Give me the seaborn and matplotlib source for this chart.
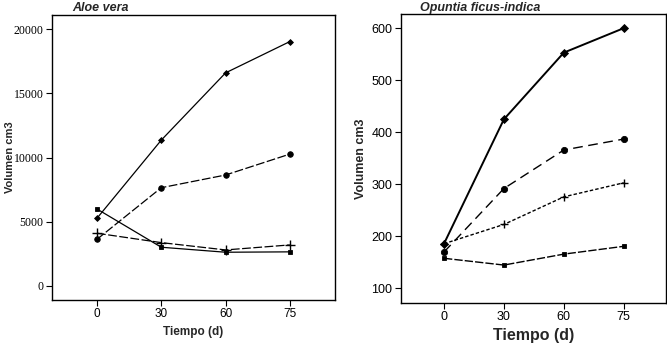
import matplotlib
matplotlib.use("Agg")
import matplotlib.pyplot as plt
import pandas as pd
import seaborn as sns

# days of measurement (categorical x axis)
tiempo = ["0", "30", "60", "75"]

# Aloe vera volumes (cm3)
aloe_diamante = [5270, 11360, 16600, 19040]
aloe_circulo = [3630, 7650, 8640, 10270]
aloe_cuadro = [5990, 3010, 2620, 2650]
aloe_cruz = [4100, 3370, 2800, 3190]

# Opuntia ficus-indica volumes (cm3)
opuntia_diamante = [186, 425, 553, 600]
opuntia_circulo = [170, 292, 366, 387]
opuntia_cruz = [186, 223, 276, 303]
opuntia_cuadro = [158, 145, 166, 181]

sns.set_style("ticks")

fig = plt.figure(figsize=(6.67, 3.44), dpi=100)
ax1 = fig.add_axes([0.078, 0.128, 0.424, 0.828])
ax2 = fig.add_axes([0.601, 0.119, 0.397, 0.840])


def draw(ax, y, marker, ms, lw, dashes, mew=0.6):
    df = pd.DataFrame({"Tiempo": tiempo, "Volumen": y})
    sns.lineplot(data=df, x="Tiempo", y="Volumen", ax=ax, color="black",
                 marker=marker, markersize=ms, linewidth=lw,
                 markeredgecolor="black", markerfacecolor="black",
                 markeredgewidth=mew, sort=False)
    line = ax.lines[-1]
    if dashes:
        line.set_dashes(dashes)


# left panel
draw(ax1, aloe_diamante, "D", 3, 0.9, None)
draw(ax1, aloe_circulo, "o", 4, 0.9, (7, 2))
draw(ax1, aloe_cuadro, "s", 3.5, 0.9, None)
draw(ax1, aloe_cruz, "+", 7, 0.9, (7, 2), mew=1.0)

# right panel
draw(ax2, opuntia_diamante, "D", 4, 1.4, None)
draw(ax2, opuntia_circulo, "o", 4.5, 1.0, (7, 4))
draw(ax2, opuntia_cruz, "+", 6, 1.0, (2.5, 1.5), mew=1.0)
draw(ax2, opuntia_cuadro, "s", 3.5, 1.0, (6, 1.5))

ax1.set_xlim(-0.7, 3.7)
ax1.set_ylim(-1100, 21100)
ax1.set_yticks([0, 5000, 10000, 15000, 20000])
ax2.set_xlim(-0.72, 3.7)
ax2.set_ylim(72, 627)
ax2.set_yticks([100, 200, 300, 400, 500, 600])

for ax in (ax1, ax2):
    for s in ax.spines.values():
        s.set_visible(True)
        s.set_color("black")
        s.set_linewidth(1.0)
    ax.tick_params(direction="out", length=4, width=0.8, colors="black",
                   pad=2)
    ax.set_xlabel("Tiempo (d)", fontweight="bold", family="Liberation Sans")
    ax.set_ylabel("Volumen cm3", fontweight="bold", family="Liberation Sans")

# left panel: serif numbers on y, sans on x
ax1.tick_params(axis="y", labelsize=8.5, labelfontfamily="Liberation Serif")
ax1.tick_params(axis="x", labelsize=8.5, labelfontfamily="Liberation Sans")
ax2.tick_params(axis="both", labelsize=9, labelfontfamily="Liberation Sans")

ax1.xaxis.label.set_fontsize(8.5)
ax1.yaxis.label.set_fontsize(8)
ax1.yaxis.set_label_coords(-0.131, 0.5)
ax1.xaxis.set_label_coords(0.5, -0.09)
ax2.xaxis.label.set_fontsize(11.5)
ax2.yaxis.label.set_fontsize(9)
ax2.yaxis.set_label_coords(-0.128, 0.5)
ax2.xaxis.set_label_coords(0.5, -0.085)

fig.text(0.108, 0.958, "Aloe vera", fontsize=9, fontweight="bold",
         style="italic", family="Liberation Sans", va="bottom")
fig.text(0.630, 0.960, "Opuntia ficus-indica", fontsize=9, fontweight="bold",
         style="italic", family="Liberation Sans", va="bottom")

fig.savefig("out.png", dpi=100)
